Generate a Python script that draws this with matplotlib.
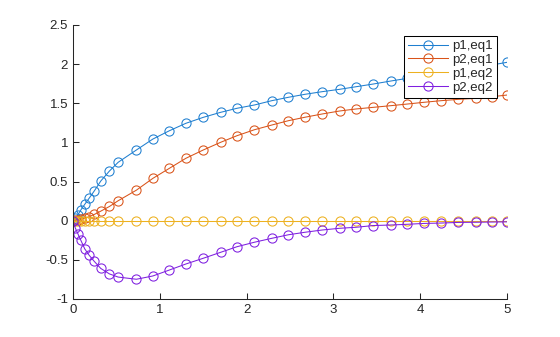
import numpy as np
import matplotlib
matplotlib.use('Agg')
import matplotlib.pyplot as plt

# time steps (solver output)
t = [0, 0.025, 0.055, 0.09, 0.135, 0.185, 0.245, 0.32, 0.42, 0.52, 0.73,
     0.92, 1.11, 1.30, 1.50, 1.70, 1.89, 2.09, 2.29, 2.48, 2.67, 2.87,
     3.07, 3.26, 3.46, 3.66, 3.85, 4.04, 4.24, 4.44, 4.64, 4.83, 5.0]

p1_eq1 = [0, 0.03, 0.073, 0.137, 0.209, 0.286, 0.38, 0.507, 0.635, 0.746, 0.903,
          1.043, 1.149, 1.244, 1.32, 1.384, 1.436, 1.478, 1.533, 1.576, 1.614, 1.648,
          1.678, 1.711, 1.746, 1.784, 1.818, 1.852, 1.886, 1.92, 1.954, 1.99, 2.023]

p2_eq1 = [0, 0.005, 0.01, 0.018, 0.031, 0.051, 0.08, 0.122, 0.182, 0.255, 0.39,
          0.541, 0.669, 0.797, 0.903, 1.001, 1.086, 1.162, 1.222, 1.277, 1.321, 1.363,
          1.401, 1.427, 1.448, 1.469, 1.49, 1.512, 1.533, 1.55, 1.563, 1.584, 1.605]

p1_eq2 = [0.0] * len(t)

p2_eq2 = [0, -0.09, -0.165, -0.25, -0.36, -0.44, -0.52, -0.61, -0.68, -0.72, -0.748,
          -0.706, -0.63, -0.553, -0.48, -0.404, -0.332, -0.275, -0.225, -0.18, -0.148, -0.119,
          -0.097, -0.084, -0.062, -0.055, -0.046, -0.035, -0.03, -0.022, -0.02, -0.017, -0.015]

labels = ['p1,eq1', 'p2,eq1', 'p1,eq2', 'p2,eq2']
colors = ['#1f7fd0', '#D95319', '#EDB120', '#7F1FE0']

matplotlib.rcParams.update({'font.family': ['Liberation Sans', 'DejaVu Sans'],
                            'font.size': 9.5})
txt = '#262626'

fig = plt.figure(figsize=(5.6, 3.37), dpi=100)
ax = fig.add_axes([0.1304, 0.1128, 0.775, 0.8131])

for y, lab, c in zip([p1_eq1, p2_eq1, p1_eq2, p2_eq2], labels, colors):
    ax.plot(t, y, '-o', color=c, linewidth=0.75, markersize=6.6,
            markerfacecolor='none', markeredgewidth=0.75, label=lab)

ax.set_xlim(0, 5)
ax.set_ylim(-1, 2.5)
ax.set_xticks(np.arange(0, 6, 1))
ax.set_yticks(np.arange(-1, 2.51, 0.5))
ax.set_xticklabels(['0', '1', '2', '3', '4', '5'])
ax.set_yticklabels(['-1', '-0.5', '0', '0.5', '1', '1.5', '2', '2.5'])
ax.spines['top'].set_visible(False)
ax.spines['right'].set_visible(False)
for s in ['left', 'bottom']:
    ax.spines[s].set_color(txt)
    ax.spines[s].set_linewidth(0.75)
ax.tick_params(direction='in', length=4, width=0.75, colors=txt,
               labelcolor=txt, labelsize=9.5)

leg = ax.legend(loc='upper left', bbox_to_anchor=(404 / 560, 1 - 36 / 337),
                bbox_transform=fig.transFigure, borderaxespad=0,
                fancybox=False, framealpha=1, edgecolor='black',
                handlelength=3.0, handletextpad=0.35, labelspacing=0.12,
                borderpad=0.3, fontsize=9.5)
leg.get_frame().set_linewidth(0.75)
for tx in leg.get_texts():
    tx.set_color(txt)

fig.savefig('out.png', dpi=100)
